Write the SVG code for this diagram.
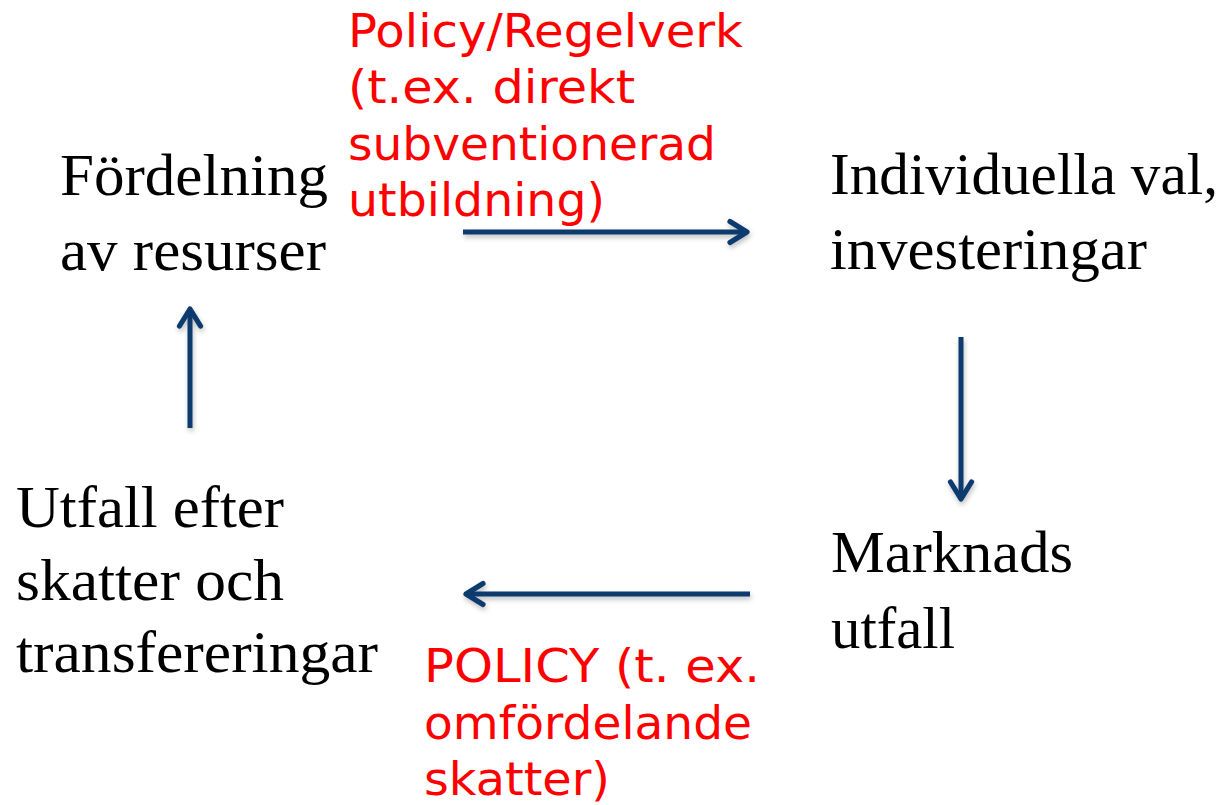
<svg xmlns="http://www.w3.org/2000/svg" width="1228" height="805" viewBox="0 0 1228 805">
<style>
.n{font-family:"Liberation Serif","Times New Roman",serif;font-size:59px;fill:#000}
.p{font-family:"DejaVu Sans","Verdana",sans-serif;font-size:46px;fill:#ff0000}
.c{stroke:#0b3a6e;stroke-width:5;fill:none;stroke-linecap:butt}
</style>
<defs>
<marker id="ah" viewBox="0 0 30 30" refX="25" refY="15" markerWidth="30" markerHeight="30" markerUnits="userSpaceOnUse" orient="auto">
<path d="M8 4.5 L25 15 L8 25.5" fill="none" stroke="#0b3a6e" stroke-width="5.2" stroke-linecap="round" stroke-linejoin="round"/>
</marker>
<filter id="sh" x="-20%" y="-20%" width="140%" height="140%">
<feDropShadow dx="1" dy="3" stdDeviation="2.5" flood-color="#000" flood-opacity="0.25"/>
</filter>
</defs>
<rect width="1228" height="805" fill="#fff"/>
<g id="connectors" filter="url(#sh)">
<line class="c" x1="463" y1="232" x2="747" y2="232" marker-end="url(#ah)"/>
<line class="c" x1="961" y1="337" x2="961" y2="499" marker-end="url(#ah)"/>
<line class="c" x1="750" y1="594" x2="466" y2="594" marker-end="url(#ah)"/>
<line class="c" x1="190" y1="428" x2="190" y2="309" marker-end="url(#ah)"/>
</g>
<g id="node-fordelning">
<text class="n" x="60" y="195" textLength="268" lengthAdjust="spacingAndGlyphs">Fördelning</text>
<text class="n" x="60" y="270" textLength="266" lengthAdjust="spacingAndGlyphs">av resurser</text>
</g>
<g id="node-individuella">
<text class="n" x="830" y="194" textLength="388" lengthAdjust="spacingAndGlyphs">Individuella val,</text>
<text class="n" x="830" y="269" textLength="317" lengthAdjust="spacingAndGlyphs">investeringar</text>
</g>
<g id="node-marknads">
<text class="n" x="831" y="572" textLength="242" lengthAdjust="spacingAndGlyphs">Marknads</text>
<text class="n" x="831" y="648" textLength="124" lengthAdjust="spacingAndGlyphs">utfall</text>
</g>
<g id="node-utfall">
<text class="n" x="16" y="527" textLength="268" lengthAdjust="spacingAndGlyphs">Utfall efter</text>
<text class="n" x="16" y="600" textLength="268" lengthAdjust="spacingAndGlyphs">skatter och</text>
<text class="n" x="16" y="672" textLength="362" lengthAdjust="spacingAndGlyphs">transfereringar</text>
</g>
<g id="label-policy-top">
<text class="p" x="348" y="47" textLength="395" lengthAdjust="spacingAndGlyphs">Policy/Regelverk</text>
<text class="p" x="348" y="103" textLength="287" lengthAdjust="spacingAndGlyphs">(t.ex. direkt</text>
<text class="p" x="348" y="160" textLength="368" lengthAdjust="spacingAndGlyphs">subventionerad</text>
<text class="p" x="348" y="216" textLength="257" lengthAdjust="spacingAndGlyphs">utbildning)</text>
</g>
<g id="label-policy-bottom">
<text class="p" x="424" y="682" textLength="336" lengthAdjust="spacingAndGlyphs">POLICY (t. ex.</text>
<text class="p" x="424" y="739" textLength="328" lengthAdjust="spacingAndGlyphs">omfördelande</text>
<text class="p" x="424" y="795" textLength="186" lengthAdjust="spacingAndGlyphs">skatter)</text>
</g>
</svg>
